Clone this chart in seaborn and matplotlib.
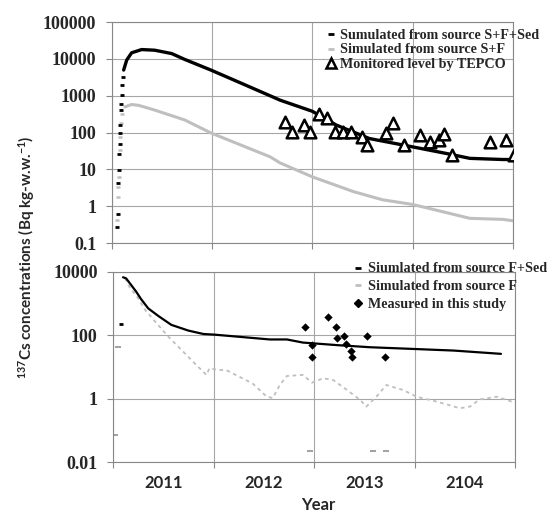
import matplotlib
matplotlib.use("Agg")
import matplotlib.pyplot as plt
import seaborn as sns
import numpy as np
from matplotlib.lines import Line2D
from matplotlib.ticker import FixedLocator, NullLocator

# --- DATA (decimal years, Bq kg-w.w.-1) ---

# top panel: simulated from source S+F+Sed (black)
top_black_rise_x = [2011.055, 2011.062, 2011.068, 2011.075, 2011.075, 2011.081, 2011.081,
                    2011.088, 2011.095, 2011.095, 2011.101, 2011.108, 2011.114]
top_black_rise_y = [0.28, 0.63, 4.2, 9.5, 27, 50, 95, 160, 400, 610, 1040, 1960, 3250]
top_black_x = [2011.121, 2011.151, 2011.20, 2011.30, 2011.43, 2011.60, 2011.73, 2011.99,
               2012.30, 2012.58, 2012.68, 2013.0, 2013.24, 2013.57, 2014.0, 2014.34,
               2014.57, 2014.90, 2015.0]
top_black_y = [5000, 9300, 14700, 18000, 17300, 14000, 9700, 5000,
               2150, 1000, 760, 380, 160, 69, 41, 27, 20, 18.6, 18.6]

# top panel: simulated from source S+F (grey)
top_grey_rise_x = [2011.055, 2011.062, 2011.068, 2011.075, 2011.081, 2011.088, 2011.095, 2011.108]
top_grey_rise_y = [0.42, 1.8, 3.3, 6.3, 33, 76, 178, 330]
top_grey_x = [2011.134, 2011.20, 2011.27, 2011.43, 2011.73, 2011.99, 2012.58, 2012.68,
              2013.0, 2013.41, 2013.70, 2014.0, 2014.30, 2014.57, 2014.90, 2015.01]
top_grey_y = [500, 580, 550, 410, 220, 98, 22, 15, 6.3, 2.5, 1.5, 1.12, 0.71, 0.47, 0.44, 0.40]

# top panel: monitored level by TEPCO
tepco_x = [2012.73, 2012.80, 2012.92, 2012.98, 2013.07, 2013.15, 2013.23, 2013.31, 2013.39,
           2013.50, 2013.55, 2013.73, 2013.80, 2013.91, 2014.07, 2014.17, 2014.26, 2014.31,
           2014.39, 2014.77, 2014.93, 2015.01]
tepco_y = [190, 105, 158, 105, 330, 257, 105, 105, 105, 74, 46, 98, 178, 46, 85, 56, 65, 92,
           24.5, 56, 62, 24.5]

# bottom panel: simulated from source F+Sed (black)
bot_black_pt_x = [2011.08]
bot_black_pt_y = [230]
bot_black_x = [2011.10, 2011.13, 2011.18, 2011.23, 2011.28, 2011.35, 2011.45, 2011.58, 2011.75,
               2011.90, 2012.01, 2012.56, 2012.73, 2012.89, 2013.23, 2013.56, 2014.0, 2014.39,
               2014.86]
bot_black_y = [6800, 6300, 3900, 2400, 1380, 710, 410, 214, 141, 110, 105, 74, 74, 59, 49, 42,
               37, 33, 26]

# bottom panel: simulated from source F (grey)
bot_grey_pt_x = [2011.02, 2011.05, 2012.96, 2013.59, 2013.72]
bot_grey_pt_y = [0.07, 42, 0.023, 0.023, 0.023]
bot_grey_x = [2011.12, 2011.17, 2011.25, 2011.32, 2011.42, 2011.55, 2011.68, 2011.81, 2011.93,
              2011.96, 2012.04, 2012.13, 2012.39, 2012.53, 2012.59, 2012.66, 2012.73, 2012.89,
              2012.98, 2013.09, 2013.19, 2013.33, 2013.46, 2013.52, 2013.62, 2013.72, 2013.89,
              2014.02, 2014.22, 2014.45, 2014.55, 2014.65, 2014.82, 2015.02]
bot_grey_y = [6300, 3100, 1480, 630, 270, 91, 35, 13.2, 5.6, 9.1, 8.1, 7.9, 3.0, 1.15, 1.05,
              2.7, 5.2, 5.6, 3.2, 4.4, 3.9, 1.86, 0.91, 0.56, 1.15, 2.7, 1.86, 1.15, 0.81, 0.50,
              0.56, 0.95, 1.15, 0.71]

# bottom panel: measured in this study
measured_x = [2012.91, 2012.98, 2012.98, 2013.14, 2013.22, 2013.23, 2013.30, 2013.32, 2013.37,
              2013.38, 2013.53, 2013.71]
measured_y = [187, 49, 21, 370, 187, 81, 98, 52, 33, 21, 98, 21]

# axis text
year_edges = [2011, 2012, 2013, 2014, 2015]
year_mids = [2011.5, 2012.5, 2013.5, 2014.5]
year_labels = ["2011", "2012", "2013", "2104"]
top_yticks = [0.1, 1, 10, 100, 1000, 10000, 100000]
top_ylabels = ["0.1", "1", "10", "100", "1000", "10000", "100000"]
bot_yticks = [0.01, 1, 100, 10000]
bot_ylabels = ["0.01", "1", "100", "10000"]
top_legend = ["Sumulated from source S+F+Sed", "Simulated from source S+F", "Monitored level by TEPCO"]
bot_legend = ["Siumlated from source F+Sed", "Simulated from source F", "Measured in this study"]

# --- STYLE ---
sns.set_style("white")
plt.rcParams['font.family'] = ['Liberation Serif', 'DejaVu Serif']
plt.rcParams['mathtext.fontset'] = 'custom'
plt.rcParams['mathtext.bf'] = 'Lato:bold'
plt.rcParams['mathtext.rm'] = 'Lato:bold'

GRID = '#a6a6a6'
LGREY = '#bfbfbf'

fig = plt.figure(figsize=(5.54, 5.15), dpi=100)
ax1 = fig.add_axes([0.2013, 0.528, 0.7247, 0.429])
ax2 = fig.add_axes([0.204, 0.1029, 0.7256, 0.369])


def style_axis(ax, yticks, ylabels, ylim):
    ax.set_yscale('log')
    ax.set_ylim(*ylim)
    ax.set_xlim(year_edges[0], year_edges[-1])
    ax.yaxis.set_major_locator(FixedLocator(yticks))
    ax.yaxis.set_minor_locator(NullLocator())
    ax.set_yticklabels(ylabels, fontsize=13, fontweight='bold')
    ax.set_xticks(year_edges)
    ax.set_xticklabels([""] * len(year_edges))
    ax.set_xticks(year_mids, minor=True)
    ax.grid(True, which='major', color=GRID, linewidth=0.8)
    ax.set_axisbelow(True)
    for s in ax.spines.values():
        s.set_color('#888888')
        s.set_linewidth(0.8)
    ax.tick_params(axis='both', which='major', direction='out', length=4, width=0.8,
                   color='#888888', left=True, bottom=True)
    ax.tick_params(axis='y', which='major', pad=7)
    ax.tick_params(axis='x', which='minor', length=0, bottom=True)
    ax.set_xlabel("")
    ax.set_ylabel("")


# --- TOP PANEL ---
sns.lineplot(x=top_grey_x, y=top_grey_y, ax=ax1, color=LGREY, linewidth=2.2,
             estimator=None, sort=False)
sns.scatterplot(x=top_grey_rise_x, y=top_grey_rise_y, ax=ax1, marker='_', color=LGREY,
                s=12, linewidth=1.8)
sns.lineplot(x=top_black_x, y=top_black_y, ax=ax1, color='black', linewidth=2.4,
             estimator=None, sort=False)
sns.scatterplot(x=top_black_rise_x, y=top_black_rise_y, ax=ax1, marker='_', color='black',
                s=12, linewidth=2)
sns.scatterplot(x=tepco_x, y=tepco_y, ax=ax1, marker='^', facecolor='white',
                edgecolor='black', s=70, linewidth=1.8, zorder=5)
style_axis(ax1, top_yticks, top_ylabels, (0.1, 100000))

h1 = [Line2D([], [], marker='_', color='black', linestyle='none', markersize=4, markeredgewidth=2),
      Line2D([], [], marker='_', color=LGREY, linestyle='none', markersize=4, markeredgewidth=2),
      Line2D([], [], marker='^', markerfacecolor='white', markeredgecolor='black',
             linestyle='none', markersize=7, markeredgewidth=1.8)]
ax1.legend(h1, top_legend, loc='upper left', bbox_to_anchor=(0.535, 0.97), frameon=False,
           prop={'family': 'Liberation Serif', 'weight': 'bold', 'size': 10.2},
           handlelength=0.6, handletextpad=0.35, labelspacing=0.12, borderpad=0,
           borderaxespad=0)

# --- BOTTOM PANEL ---
sns.lineplot(x=bot_grey_x, y=bot_grey_y, ax=ax2, color=LGREY, linewidth=1.3,
             estimator=None, sort=False, linestyle=(0, (2, 2)))
sns.scatterplot(x=bot_grey_pt_x, y=bot_grey_pt_y, ax=ax2, marker='_', color='#999999',
                s=20, linewidth=1.3)
sns.lineplot(x=bot_black_x, y=bot_black_y, ax=ax2, color='black', linewidth=1.6,
             estimator=None, sort=False)
sns.scatterplot(x=bot_black_pt_x, y=bot_black_pt_y, ax=ax2, marker='_', color='black',
                s=12, linewidth=2)
sns.scatterplot(x=measured_x, y=measured_y, ax=ax2, marker='D', color='black', s=18,
                linewidth=0, zorder=5)
style_axis(ax2, bot_yticks, bot_ylabels, (0.01, 10000))
ax2.set_xticklabels(year_labels, minor=True, fontsize=12, fontweight='bold',
                    family=['Lato', 'DejaVu Sans'])
ax2.tick_params(axis='x', which='minor', pad=9)

h2 = [Line2D([], [], marker='_', color='black', linestyle='none', markersize=4, markeredgewidth=2),
      Line2D([], [], marker='_', color=LGREY, linestyle='none', markersize=4, markeredgewidth=2),
      Line2D([], [], marker='D', color='black', linestyle='none', markersize=4)]
ax2.legend(h2, bot_legend, loc='upper left', bbox_to_anchor=(0.6, 1.05), frameon=False,
           prop={'family': 'Liberation Serif', 'weight': 'bold', 'size': 10.2},
           handlelength=0.6, handletextpad=0.35, labelspacing=0.35, borderpad=0,
           borderaxespad=0)

# --- SHARED LABELS ---
fig.text(0.048, 0.5, r"$\mathbf{^{137}}$Cs concentrations (Bq kg-w.w.$\mathbf{^{-1}}$)",
         rotation=90, ha='center', va='center', fontsize=11, fontweight='bold',
         family=['Lato', 'DejaVu Sans'])
fig.text(0.574, 0.02, "Year", ha='center', va='center', fontsize=12, fontweight='bold',
         family=['Lato', 'DejaVu Sans'])

fig.savefig("out.png", dpi=100)
